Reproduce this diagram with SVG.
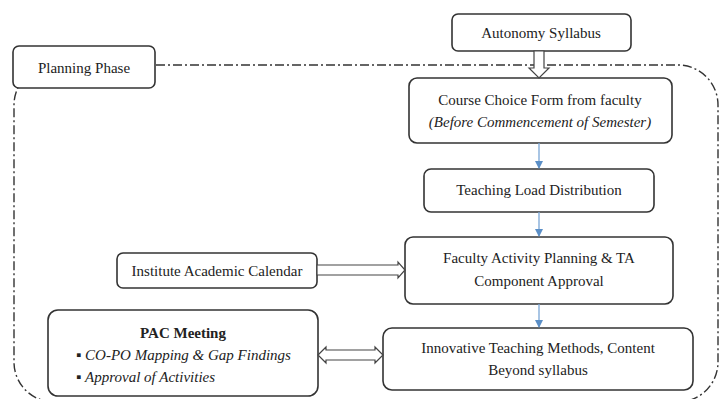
<svg xmlns="http://www.w3.org/2000/svg" width="721" height="399" viewBox="0 0 721 399">
<style>
.box{fill:#fff;stroke:#333;stroke-width:1.6}
.t{font-size:15px;fill:#222;text-anchor:middle}
.i{font-style:italic}
.b{font-weight:bold}
.hollow{fill:#fff;stroke:#444;stroke-width:1.2}
.blue{stroke:#7aa6d6;stroke-width:1.3;fill:none}
</style>
<defs>
<marker id="ba" markerWidth="8" markerHeight="8" refX="7" refY="4" orient="auto" markerUnits="userSpaceOnUse">
<path d="M0,0 L8,4 L0,8 Z" fill="#5b8fc7"/>
</marker>
</defs>
<rect id="phase-border" x="14" y="65" width="704" height="337" rx="40" fill="none" stroke="#333" stroke-width="1.4" stroke-dasharray="9 3 2 3"/>
<g font-family="Liberation Serif, DejaVu Serif, Times New Roman, serif">
<g id="planning-phase">
<rect class="box" x="13" y="46" width="142" height="42" rx="6"/>
<text class="t" x="84" y="73">Planning Phase</text>
</g>
<g id="autonomy-syllabus">
<rect class="box" x="452" y="14" width="179" height="37" rx="6"/>
<text class="t" x="541" y="38">Autonomy Syllabus</text>
</g>
<g id="course-choice">
<rect class="box" x="409" y="78" width="263" height="65" rx="8"/>
<text class="t" x="540" y="105">Course Choice Form from faculty</text>
<text class="t i" x="540" y="127">(Before Commencement of Semester)</text>
</g>
<g id="teaching-load">
<rect class="box" x="424" y="169" width="230" height="43" rx="7"/>
<text class="t" x="539" y="195">Teaching Load Distribution</text>
</g>
<g id="faculty-activity">
<rect class="box" x="405" y="237" width="268" height="67" rx="8"/>
<text class="t" x="539" y="263">Faculty Activity Planning &amp; TA</text>
<text class="t" x="539" y="286">Component Approval</text>
</g>
<g id="institute-calendar">
<rect class="box" x="117" y="253" width="200" height="35" rx="6"/>
<text class="t" x="217" y="276">Institute Academic Calendar</text>
</g>
<g id="pac-meeting">
<rect class="box" x="48" y="310" width="270" height="86" rx="10"/>
<text class="t b" x="183" y="338">PAC Meeting</text>
<text class="t" x="76" y="360" style="text-anchor:start">▪ <tspan class="i">CO-PO Mapping &amp; Gap Findings</tspan></text>
<text class="t" x="76" y="382" style="text-anchor:start">▪ <tspan class="i">Approval of Activities</tspan></text>
</g>
<g id="innovative-teaching">
<rect class="box" x="383" y="328" width="310" height="62" rx="9"/>
<text class="t" x="538" y="353">Innovative Teaching Methods, Content</text>
<text class="t" x="538" y="375">Beyond syllabus</text>
</g>
</g>
<g id="connectors">
<path class="hollow" d="M534,51 L544,51 L544,68 L549,68 L539,78 L529,68 L534,68 Z"/>
<line class="blue" x1="539" y1="143" x2="539" y2="168" marker-end="url(#ba)"/>
<line class="blue" x1="539" y1="212" x2="539" y2="236" marker-end="url(#ba)"/>
<line class="blue" x1="539" y1="304" x2="539" y2="327" marker-end="url(#ba)"/>
<path class="hollow" d="M317,265 L398,265 L398,262 L405,270 L398,278 L398,275 L317,275 Z"/>
<path class="hollow" d="M318,355 L326,347 L326,350 L375,350 L375,347 L383,355 L375,363 L375,360 L326,360 L326,363 Z"/>
</g>
</svg>
